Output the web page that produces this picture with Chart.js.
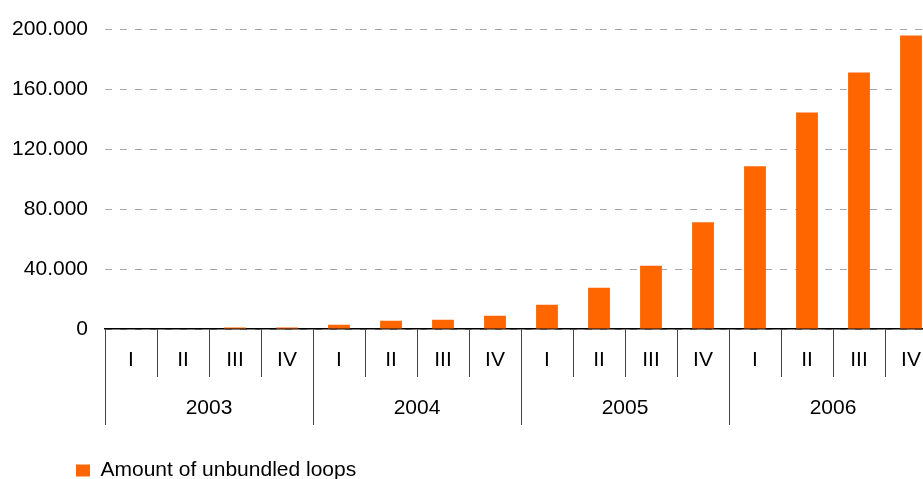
<!DOCTYPE html>
<html>
<head>
<meta charset="utf-8">
<script src="https://cdn.jsdelivr.net/npm/chart.js@4"></script>
<style>
  html, body { margin: 0; padding: 0; overflow: hidden; background: #fff; }
  #wrap { width: 923px; height: 479px; overflow: hidden; }
</style>
</head>
<body>
<div id="wrap"><canvas id="loopsChart" width="937" height="479"></canvas></div>
<script>
const years = ['2003', '2004', '2005', '2006']
const quarters = ['I', 'II', 'III', 'IV']
const loops = [
  0, 0, 1000, 1000,
  2900, 5500, 6200, 8900,
  16200, 27500, 42200, 71300,
  108700, 144700, 171300, 196000
]
const yTicks = [0, 40000, 80000, 120000, 160000, 200000]

const labels = years.flatMap(() => quarters)
const font = { family: "'Liberation Sans', Arial, sans-serif", size: 21 }

// move the legend a bit right and down, like the original
const legendShift = {
  id: 'legendShift',
  afterLayout(chart) {
    chart.legend.left += 53
    chart.legend.top += 12
  }
}

const ctx = document.getElementById('loopsChart').getContext('2d');
new Chart(ctx, {
  type: 'bar',
  data: {
    labels: labels,
    datasets: [{
      label: 'Amount of unbundled loops',
      data: loops,
      backgroundColor: '#ff6600',
      barPercentage: 0.42,
      categoryPercentage: 1
    }]
  },
  options: {
    responsive: false,
    animation: false,
    layout: { padding: { top: 29, right: 0, left: 0, bottom: 0 } },
    scales: {
      x: {
        offset: true,
        grid: { drawOnChartArea: false, offset: true, tickLength: 48, color: '#444', lineWidth: 1 },
        border: { display: true, color: '#000', width: 1.5 },
        ticks: { font: font, color: '#000', padding: -29, maxRotation: 0, autoSkip: false },
        afterFit: scale => { scale.height = 48 }
      },
      x2: {
        type: 'category',
        position: 'bottom',
        labels: years,
        offset: true,
        grid: { drawOnChartArea: false, offset: true, tickLength: 48, color: '#444', lineWidth: 1 },
        border: { display: false },
        ticks: { font: font, color: '#000', padding: -29, maxRotation: 0 },
        afterFit: scale => { scale.height = 48 }
      },
      y: {
        min: 0,
        max: 200000,
        afterBuildTicks: scale => { scale.ticks = yTicks.map(v => ({ value: v })) },
        grid: { drawTicks: false, color: '#a6a6a6', lineWidth: 1 },
        border: { display: false, dash: [7, 8] },
        ticks: {
          font: font,
          color: '#000',
          padding: 17,
          callback: v => String(v).replace(/\B(?=(\d{3})+(?!\d))/g, '.')
        },
        afterFit: scale => { scale.width = 105 }
      }
    },
    plugins: {
      legend: {
        position: 'bottom',
        align: 'start',
        labels: { font: font, color: '#000', boxWidth: 14, boxHeight: 12, padding: 23 }
      },
      tooltip: { enabled: false }
    }
  },
  plugins: [legendShift]
});
</script>
</body>
</html>
